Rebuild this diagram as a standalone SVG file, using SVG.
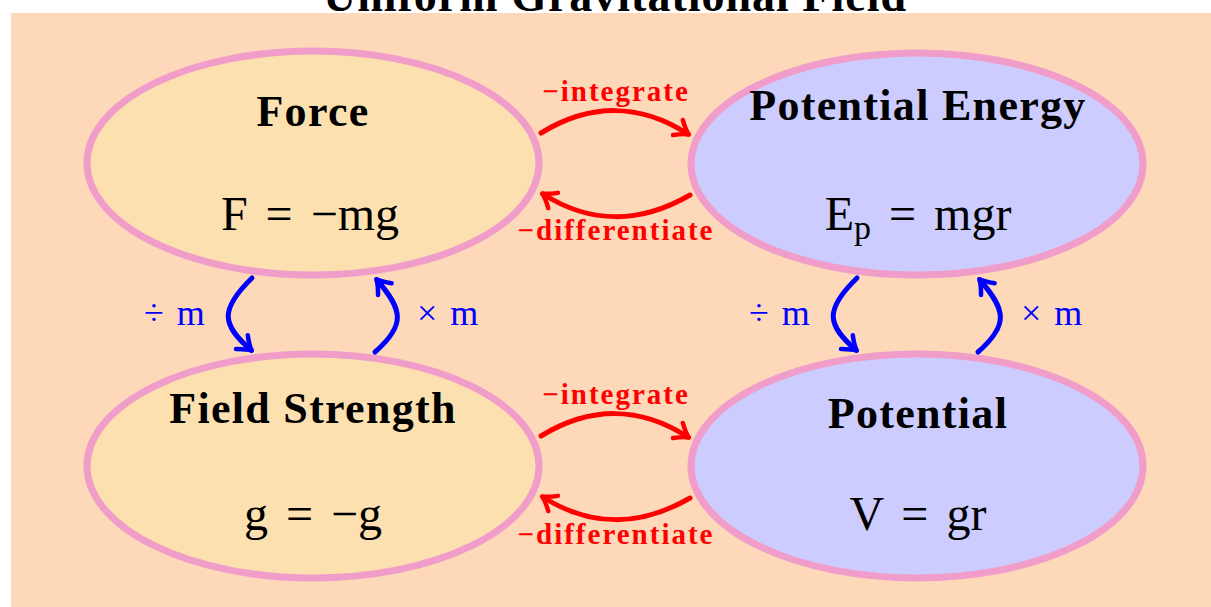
<svg xmlns="http://www.w3.org/2000/svg" width="1211" height="607" viewBox="0 0 1211 607">
<defs>
<style>
.node{stroke:#F09EC9;stroke-width:7}
.warm{fill:#FDE0B0}
.cool{fill:#CCCCFF}
.title{font-family:"Liberation Serif",serif;font-weight:bold;font-size:46px;letter-spacing:1px;fill:#000}
.name{font-family:"Liberation Serif",serif;font-weight:bold;font-size:44px;letter-spacing:1.3px;fill:#000;text-anchor:middle}
.eq{font-family:"Liberation Serif",serif;font-size:48px;fill:#000;text-anchor:middle;word-spacing:6px}
.red{fill:none;stroke:#FF0000;stroke-width:5;stroke-linecap:round}
.blue{fill:none;stroke:#0000FF;stroke-width:5;stroke-linecap:round}
.rl{font-family:"Liberation Serif",serif;font-weight:bold;font-size:29px;letter-spacing:2px;fill:#FF0000;text-anchor:middle}
.bl{font-family:"Liberation Serif",serif;font-size:36px;fill:#0000FF;word-spacing:4px}
</style>
<marker id="ar" markerUnits="userSpaceOnUse" orient="auto" refX="0" refY="0" markerWidth="30" markerHeight="30" viewBox="-15 -15 30 30" overflow="visible">
<path d="M-12,-9 Q-4,-2 1,0 Q-4,2 -12,9" fill="none" stroke="#FF0000" stroke-width="4.5" stroke-linecap="round" stroke-linejoin="round"/>
</marker>
<marker id="ab" markerUnits="userSpaceOnUse" orient="auto" refX="0" refY="0" markerWidth="30" markerHeight="30" viewBox="-15 -15 30 30" overflow="visible">
<path d="M-12,-9 Q-4,-2 1,0 Q-4,2 -12,9" fill="none" stroke="#0000FF" stroke-width="4.5" stroke-linecap="round" stroke-linejoin="round"/>
</marker>
</defs>
<rect x="0" y="0" width="1211" height="607" fill="#FFFFFF"/>
<rect x="11" y="13" width="1200" height="594" fill="#FDD8B9"/>
<text class="title" x="615" y="11" text-anchor="middle">Uniform Gravitational Field</text>

<g id="force">
<ellipse class="node warm" cx="313" cy="163" rx="226" ry="112"/>
<text class="name" x="313" y="126">Force</text>
<text class="eq" x="310" y="230">F = −mg</text>
</g>
<g id="potential-energy">
<ellipse class="node cool" cx="917" cy="164" rx="226" ry="111"/>
<text class="name" x="918" y="120">Potential Energy</text>
<text class="eq" x="918" y="230">E<tspan font-size="34" dy="9">p</tspan><tspan dy="-9"> = mgr</tspan></text>
</g>
<g id="field-strength">
<ellipse class="node warm" cx="313" cy="466" rx="226" ry="112"/>
<text class="name" x="313" y="423">Field Strength</text>
<text class="eq" x="313" y="530">g = −g</text>
</g>
<g id="potential">
<ellipse class="node cool" cx="917" cy="466" rx="226" ry="112"/>
<text class="name" x="918" y="428">Potential</text>
<text class="eq" x="918" y="530">V = gr</text>
</g>

<g id="connectors">
<path class="red" d="M541,133 C590,103 640,103 688,134" marker-end="url(#ar)"/>
<path class="red" d="M690,195 C640,224 590,224 543,194" marker-end="url(#ar)"/>
<path class="red" d="M541,436 C590,406 640,406 688,437" marker-end="url(#ar)"/>
<path class="red" d="M690,498 C640,527 590,527 543,497" marker-end="url(#ar)"/>
<text class="rl" x="616" y="101">−integrate</text>
<text class="rl" x="616" y="240">−differentiate</text>
<text class="rl" x="616" y="404">−integrate</text>
<text class="rl" x="616" y="544">−differentiate</text>

<path class="blue" d="M252,278 C219,310 222,325 251,350" marker-end="url(#ab)"/>
<path class="blue" d="M375,352 C406,325 403,310 377,280" marker-end="url(#ab)"/>
<path class="blue" d="M857,278 C824,310 827,325 856,350" marker-end="url(#ab)"/>
<path class="blue" d="M978,352 C1009,325 1006,310 980,280" marker-end="url(#ab)"/>
<text class="bl" x="144" y="325">÷ m</text>
<text class="bl" x="417" y="325">× m</text>
<text class="bl" x="749" y="325">÷ m</text>
<text class="bl" x="1021" y="325">× m</text>
</g>
</svg>
